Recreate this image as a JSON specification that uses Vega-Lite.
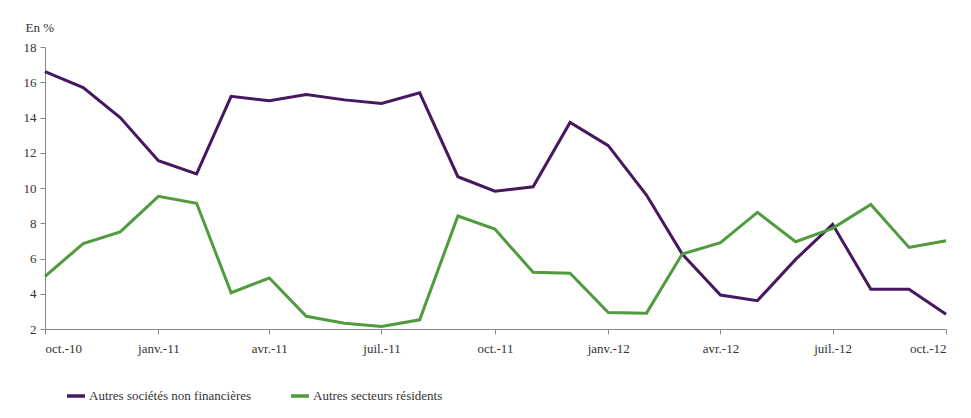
{
  "$schema": "https://vega.github.io/schema/vega-lite/v6.json",
  "width": 901,
  "height": 282,
  "autosize": {"type": "none"},
  "padding": {"left": 45, "top": 47, "right": 25, "bottom": 89},
  "background": "white",
  "config": {
    "view": {"stroke": null},
    "font": "serif",
    "axis": {"labelFont": "serif", "labelFontSize": 13, "labelColor": "#333", "titleFont": "serif", "titleFontSize": 13, "titleFontWeight": "normal", "titleColor": "#333", "domainColor": "#888", "tickColor": "#888", "grid": false, "tickSize": 5},
    "legend": {"labelFont": "serif"}
  },
  "data": {
    "values": [
      {"date": "2010-10-01T00:00:00", "serie": "Autres sociétés non financières", "v": 16.6},
      {"date": "2010-11-01T00:00:00", "serie": "Autres sociétés non financières", "v": 15.7},
      {"date": "2010-12-01T00:00:00", "serie": "Autres sociétés non financières", "v": 14.0},
      {"date": "2011-01-01T00:00:00", "serie": "Autres sociétés non financières", "v": 11.55},
      {"date": "2011-02-01T00:00:00", "serie": "Autres sociétés non financières", "v": 10.8},
      {"date": "2011-03-01T00:00:00", "serie": "Autres sociétés non financières", "v": 15.2},
      {"date": "2011-04-01T00:00:00", "serie": "Autres sociétés non financières", "v": 14.95},
      {"date": "2011-05-01T00:00:00", "serie": "Autres sociétés non financières", "v": 15.3},
      {"date": "2011-06-01T00:00:00", "serie": "Autres sociétés non financières", "v": 15.0},
      {"date": "2011-07-01T00:00:00", "serie": "Autres sociétés non financières", "v": 14.8},
      {"date": "2011-08-01T00:00:00", "serie": "Autres sociétés non financières", "v": 15.4},
      {"date": "2011-09-01T00:00:00", "serie": "Autres sociétés non financières", "v": 10.64},
      {"date": "2011-10-01T00:00:00", "serie": "Autres sociétés non financières", "v": 9.82},
      {"date": "2011-11-01T00:00:00", "serie": "Autres sociétés non financières", "v": 10.07},
      {"date": "2011-12-01T00:00:00", "serie": "Autres sociétés non financières", "v": 13.72},
      {"date": "2012-01-01T00:00:00", "serie": "Autres sociétés non financières", "v": 12.4},
      {"date": "2012-02-01T00:00:00", "serie": "Autres sociétés non financières", "v": 9.6},
      {"date": "2012-03-01T00:00:00", "serie": "Autres sociétés non financières", "v": 6.25},
      {"date": "2012-04-01T00:00:00", "serie": "Autres sociétés non financières", "v": 3.93},
      {"date": "2012-05-01T00:00:00", "serie": "Autres sociétés non financières", "v": 3.61},
      {"date": "2012-06-01T00:00:00", "serie": "Autres sociétés non financières", "v": 5.95},
      {"date": "2012-07-01T00:00:00", "serie": "Autres sociétés non financières", "v": 7.94},
      {"date": "2012-08-01T00:00:00", "serie": "Autres sociétés non financières", "v": 4.25},
      {"date": "2012-09-01T00:00:00", "serie": "Autres sociétés non financières", "v": 4.25},
      {"date": "2012-10-01T00:00:00", "serie": "Autres sociétés non financières", "v": 2.84},
      {"date": "2010-10-01T00:00:00", "serie": "Autres secteurs résidents", "v": 4.98},
      {"date": "2010-11-01T00:00:00", "serie": "Autres secteurs résidents", "v": 6.85},
      {"date": "2010-12-01T00:00:00", "serie": "Autres secteurs résidents", "v": 7.51},
      {"date": "2011-01-01T00:00:00", "serie": "Autres secteurs résidents", "v": 9.53},
      {"date": "2011-02-01T00:00:00", "serie": "Autres secteurs résidents", "v": 9.13},
      {"date": "2011-03-01T00:00:00", "serie": "Autres secteurs résidents", "v": 4.06},
      {"date": "2011-04-01T00:00:00", "serie": "Autres secteurs résidents", "v": 4.89},
      {"date": "2011-05-01T00:00:00", "serie": "Autres secteurs résidents", "v": 2.72},
      {"date": "2011-06-01T00:00:00", "serie": "Autres secteurs résidents", "v": 2.33},
      {"date": "2011-07-01T00:00:00", "serie": "Autres secteurs résidents", "v": 2.14},
      {"date": "2011-08-01T00:00:00", "serie": "Autres secteurs résidents", "v": 2.52},
      {"date": "2011-09-01T00:00:00", "serie": "Autres secteurs résidents", "v": 8.41},
      {"date": "2011-10-01T00:00:00", "serie": "Autres secteurs résidents", "v": 7.67},
      {"date": "2011-11-01T00:00:00", "serie": "Autres secteurs résidents", "v": 5.22},
      {"date": "2011-12-01T00:00:00", "serie": "Autres secteurs résidents", "v": 5.16},
      {"date": "2012-01-01T00:00:00", "serie": "Autres secteurs résidents", "v": 2.93},
      {"date": "2012-02-01T00:00:00", "serie": "Autres secteurs résidents", "v": 2.9},
      {"date": "2012-03-01T00:00:00", "serie": "Autres secteurs résidents", "v": 6.25},
      {"date": "2012-04-01T00:00:00", "serie": "Autres secteurs résidents", "v": 6.9},
      {"date": "2012-05-01T00:00:00", "serie": "Autres secteurs résidents", "v": 8.62},
      {"date": "2012-06-01T00:00:00", "serie": "Autres secteurs résidents", "v": 6.95},
      {"date": "2012-07-01T00:00:00", "serie": "Autres secteurs résidents", "v": 7.71},
      {"date": "2012-08-01T00:00:00", "serie": "Autres secteurs résidents", "v": 9.07},
      {"date": "2012-09-01T00:00:00", "serie": "Autres secteurs résidents", "v": 6.63},
      {"date": "2012-10-01T00:00:00", "serie": "Autres secteurs résidents", "v": 7.01}
    ]
  },
  "mark": {"type": "line", "strokeWidth": 3, "strokeJoin": "miter"},
  "encoding": {
    "x": {
      "field": "date", "type": "temporal", "title": null,
      "scale": {"nice": false},
      "axis": {
        "tickCount": {"interval": "month", "step": 3},
        "labelPadding": 8,
        "labelExpr": "['janv.','févr.','mars','avr.','mai','juin','juil.','août','sept.','oct.','nov.','déc.'][month(datum.value)] + '-' + timeFormat(datum.value, '%y')"
      }
    },
    "y": {
      "field": "v", "type": "quantitative", "title": "En %",
      "scale": {"domain": [2, 18], "nice": false, "zero": false},
      "axis": {"values": [2, 4, 6, 8, 10, 12, 14, 16, 18], "labelPadding": 4, "titleAngle": 0, "titleAlign": "left", "titleBaseline": "middle", "titleX": -20, "titleY": -20}
    },
    "color": {
      "field": "serie", "type": "nominal",
      "scale": {"domain": ["Autres sociétés non financières", "Autres secteurs résidents"], "range": ["#45185f", "#4f9b3d"]},
      "legend": {"title": null, "orient": "none", "legendX": 20, "legendY": 338, "direction": "horizontal", "symbolType": "stroke", "symbolStrokeWidth": 3.5, "symbolSize": 324, "labelFont": "serif", "labelFontSize": 13, "labelColor": "#333", "labelOffset": 2, "labelLimit": 400, "columnPadding": 32}
    }
  }
}
